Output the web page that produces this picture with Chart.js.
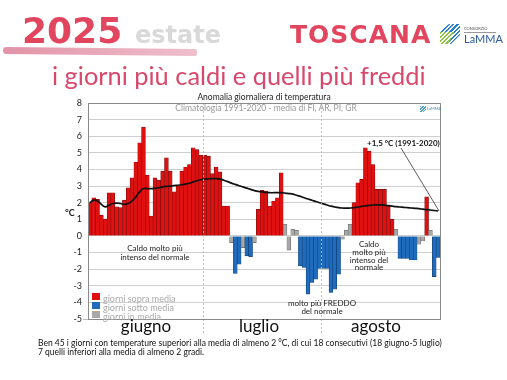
<!DOCTYPE html>
<html><head><meta charset="utf-8">
<script src="https://cdn.jsdelivr.net/npm/chart.js@4/dist/chart.umd.min.js"></script>
<style>
body{margin:0;width:507px;height:380px;position:relative;background:#fff;overflow:hidden;font-family:Lato,"Open Sans",sans-serif}
.t{position:absolute;white-space:nowrap;line-height:1}
.c{transform:translateX(-50%);text-align:center}
.h{font-family:"DejaVu Sans",sans-serif;font-weight:700}
canvas{position:absolute;left:0;top:0}
</style></head><body>
<canvas id="c" width="507" height="380"></canvas>
<div style="position:absolute;left:3px;top:48px;width:194px;height:7px;border-radius:5px 3px 3px 5px;background:linear-gradient(to right,#e293a8,#efc0cc);transform:rotate(0.6deg)"></div>
<div class="t h" style="left:22px;top:12.5px;font-size:36px;color:#e2465f">2025</div>
<div class="t h" style="left:135px;top:22.5px;font-size:24px;color:#d9d9d9">estate</div>
<div class="t h" style="left:290px;top:22px;font-size:25px;color:#e2465f;letter-spacing:1px">TOSCANA</div>
<div style="position:absolute;left:440px;top:24px;width:20px;height:20px;background:repeating-linear-gradient(135deg,#2a7fd0 0 1.5px,#fff 1.5px 3px);clip-path:polygon(0 35%,45% 0,100% 0,100% 55%,55% 100%,10% 100%)"></div>
<div style="position:absolute;left:440px;top:32px;width:14px;height:12px;background:repeating-linear-gradient(135deg,#8cc63f 0 1.5px,#fff 1.5px 3px);clip-path:polygon(0 0,100% 0,60% 100%,0 100%)"></div>
<div class="t" style="left:464px;top:27px;font-size:4px;color:#555">CONSORZIO</div>
<div style="position:absolute;left:464px;top:32px;width:32px;height:0.5px;background:#999"></div>
<div class="t" style="left:464px;top:33px;font-size:11px;color:#2a5a9a">LaMMA</div>
<div class="t" style="left:52px;top:63px;font-size:25.4px;font-weight:400;color:#d9486a">i giorni più caldi e quelli più freddi</div>
<div class="t c" style="left:264px;top:93px;font-size:8.5px;color:#222">Anomalia giornaliera di temperatura</div>
<div class="t c" style="left:266px;top:104px;font-size:8.5px;color:#999">Climatologia 1991-2020 - media di FI, AR, PI, GR</div>
<div style="position:absolute;left:420px;top:106px;width:6px;height:6px;background:repeating-linear-gradient(135deg,#4aa0c8 0 1px,#fff 1px 2px)"></div>
<div class="t" style="left:427px;top:107px;font-size:4px;color:#4a7aaa">LaMMA</div>
<div class="t" style="left:65px;top:208px;font-size:9px;font-weight:700;color:#222">°C</div>
<div class="t c" style="left:155px;top:244px;font-size:8px;color:#222;line-height:8.5px">Caldo molto più<br>intenso del normale</div>
<div class="t c" style="left:369px;top:241px;font-size:8px;color:#222;line-height:7.8px">Caldo<br>molto più<br>intenso del<br>normale</div>
<div class="t c" style="left:322px;top:299px;font-size:8px;color:#222;line-height:8px">molto più FREDDO<br>del normale</div>
<div class="t" style="left:367px;top:139px;font-size:8px;font-weight:700;color:#111">+1,5 °C (1991-2020)</div>
<div style="position:absolute;left:92px;top:293px;width:8px;height:7px;background:#e01010"></div>
<div style="position:absolute;left:92px;top:302px;width:8px;height:7px;background:#1f6cbe"></div>
<div style="position:absolute;left:92px;top:311px;width:8px;height:7px;background:#a8a8a8"></div>
<div class="t" style="left:103px;top:294px;font-size:9px;color:#aaa">giorni sopra media</div>
<div class="t" style="left:103px;top:303px;font-size:9px;color:#aaa">giorni sotto media</div>
<div class="t" style="left:103px;top:312px;font-size:9px;color:#aaa">giorni in media</div>
<div class="t c" style="left:146px;top:317px;font-size:17px;color:#111">giugno</div>
<div class="t c" style="left:259px;top:317px;font-size:17px;color:#111">luglio</div>
<div class="t c" style="left:376px;top:317px;font-size:17px;color:#111">agosto</div>
<div class="t" style="left:38px;top:339px;font-size:8.5px;color:#111;line-height:8.8px">Ben 45 i giorni con temperature superiori alla media di almeno 2 °C, di cui 18 consecutivi (18 giugno-5 luglio)<br>7 quelli inferiori alla media di almeno 2 gradi.</div>
<script>
const months = ['giugno','luglio','agosto'];
const monthDays = [30, 31, 31];
const yTicks = [-5,-4,-3,-2,-1,0,1,2,3,4,5,6,7,8];
const anomalies = [
 2.0,2.3,2.2,1.25,1.0,2.6,2.6,1.75,1.7,2.15,2.9,3.5,4.45,5.6,6.55,3.65,1.2,3.5,3.35,3.9,4.7,3.9,2.65,3.0,3.9,4.15,4.3,5.3,5.2,4.85,
 4.85,4.8,3.75,4.15,3.85,1.8,1.8,-0.4,-2.25,-1.7,-0.7,-1.2,-1.25,-0.4,1.6,2.75,2.7,1.8,2.1,2.3,3.8,0.7,-0.85,0.4,0.35,-1.8,-1.9,-3.5,-2.8,-2.6,-1.95,
 -1.95,-1.95,-3.4,-3.2,-2.3,-0.2,0.35,0.7,2.0,3.2,3.4,5.3,5.1,4.3,2.8,2.8,2.8,1.85,1.0,0.4,-1.35,-1.35,-1.35,-1.45,-1.45,-0.5,-0.3,2.35,0.35,-2.45,-1.3];
const runningMean = [
 2.0,2.15,2.1,1.9,1.75,1.85,1.95,1.97,1.95,1.9,1.95,2.1,2.35,2.65,2.85,2.85,2.85,2.87,2.9,2.95,2.98,3.0,3.03,3.05,3.08,3.12,3.17,3.25,3.32,3.38,
 3.42,3.44,3.45,3.45,3.42,3.35,3.27,3.18,3.1,3.02,2.95,2.88,2.8,2.73,2.68,2.65,2.62,2.6,2.6,2.6,2.6,2.58,2.55,2.52,2.45,2.38,2.3,2.22,2.15,2.07,2.0,
 1.93,1.86,1.79,1.74,1.7,1.68,1.67,1.68,1.7,1.74,1.78,1.81,1.84,1.86,1.87,1.87,1.85,1.82,1.79,1.76,1.74,1.72,1.7,1.68,1.66,1.64,1.61,1.58,1.56,1.53,1.5];

const labels = [];
months.forEach((m,i)=>{ for(let d=1; d<=monthDays[i]; d++) labels.push(d+' '+m); });
const cls = v => v >= 0.95 ? 0 : (v <= -0.95 ? 1 : 2);
const fills = ['#e01010','#1f6cbe','#a8a8a8'];
const edges = ['#7a0c0c','#123f70','#6a6a6a'];

const deco = {
  id:'deco',
  afterDatasetsDraw(chart){
    const {ctx, chartArea:a, scales:{x,y}} = chart;
    ctx.save();
    ctx.strokeStyle = 'rgba(190,190,190,0.95)';
    ctx.lineWidth = 1;
    ctx.setLineDash([2,2]);
    let idx = 0;
    for(let i=0;i<monthDays.length-1;i++){
      idx += monthDays[i];
      const px = Math.round((x.getPixelForValue(idx-1)+x.getPixelForValue(idx))/2)+0.5;
      ctx.beginPath(); ctx.moveTo(px, a.top); ctx.lineTo(px, a.bottom+16); ctx.stroke();
    }
    ctx.setLineDash([]);
    ctx.strokeStyle = '#8a8a8a';
    ctx.strokeRect(a.left+0.5, a.top+0.5, a.right-a.left, a.bottom-a.top);
    ctx.strokeStyle = '#bbb';
    ctx.beginPath(); ctx.moveTo(83, a.bottom+0.5); ctx.lineTo(a.left, a.bottom+0.5); ctx.stroke();
    const n = runningMean.length-1;
    ctx.strokeStyle = '#333'; ctx.lineWidth = 0.8;
    ctx.beginPath(); ctx.moveTo(401, 148); ctx.lineTo(x.getPixelForValue(n)+1, y.getPixelForValue(runningMean[n])); ctx.stroke();
    ctx.restore();
  }
};

new Chart(document.getElementById('c'), {
  data: { labels, datasets: [
    { type:'line', data: runningMean, borderColor:'#111', borderWidth:1.7, pointRadius:0, tension:0.4, order:0 },
    { type:'bar', data: anomalies, backgroundColor: anomalies.map(v=>fills[cls(v)]), borderColor: anomalies.map(v=>edges[cls(v)]), borderWidth:0.6, categoryPercentage:1, barPercentage:1, order:1 }
  ]},
  options: {
    responsive:false, animation:false, devicePixelRatio:1,
    layout:{ padding:{ left:60, top:103, right:67, bottom:61 } },
    plugins:{ legend:{display:false}, tooltip:{enabled:false}, title:{display:false} },
    scales:{
      x:{ display:false, offset:true },
      y:{ min:-5, max:8, afterBuildTicks: s => { s.ticks = yTicks.map(v=>({value:v})); },
          ticks:{ font:{size:9, family:'Lato'}, color:'#222', padding:6 },
          grid:{ color:'#cfcfcf', drawTicks:false },
          border:{ display:true, color:'#8a8a8a' },
          afterFit: s => { s.width = 28; } }
    }
  },
  plugins:[deco]
});
</script>
</body></html>
